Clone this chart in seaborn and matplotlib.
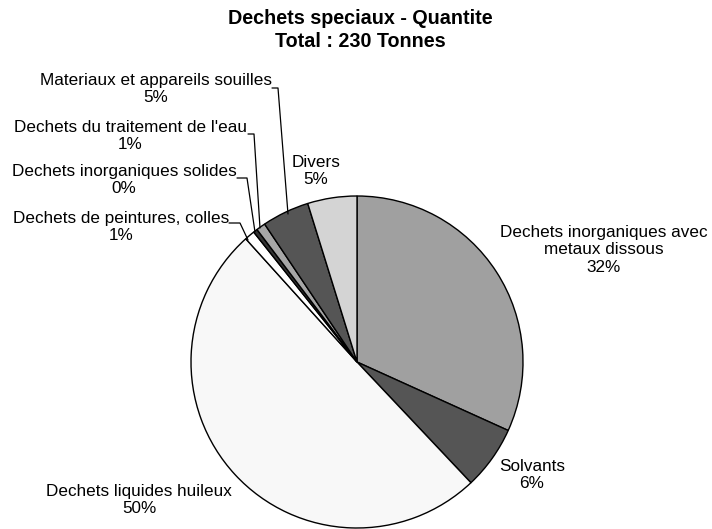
import matplotlib
matplotlib.use("Agg")
import matplotlib.pyplot as plt
import seaborn as sns

sns.set_theme(style="white")
plt.rcParams['font.family'] = ['Liberation Sans', 'DejaVu Sans']
plt.rcParams['text.color'] = 'black'

# Data (percent of 230 tonnes), clockwise from 12 o'clock
categories = ["Dechets inorganiques avec\nmetaux dissous", "Solvants",
              "Dechets liquides huileux", "Dechets de peintures, colles",
              "Dechets inorganiques solides", "Dechets du traitement de l'eau",
              "Materiaux et appareils souilles", "Divers"]
values = [31.8, 6.2, 50.4, 1.0, 0.4, 0.9, 4.6, 4.8]
colors = ["#A0A0A0", "#555555", "#F8F8F8", "#FFFFFF",
          "#333333", "#A6A6A6", "#555555", "#D4D4D4"]
title = "Dechets speciaux - Quantite\nTotal : 230 Tonnes"

W, H = 712, 529
fig = plt.figure(figsize=(W / 100, H / 100), dpi=100)
ax = fig.add_axes([0, 0, 1, 1])

cx, cy, r = 357, H - 362, 166
ax.pie(values, colors=colors, startangle=90, counterclock=False,
       center=(cx, cy), radius=r,
       wedgeprops=dict(edgecolor="black", linewidth=1.0), frame=True)
ax.set_xlim(0, W)
ax.set_ylim(0, H)
ax.axis("off")

total = sum(values)
labels = [f"{c}\n{round(v / total * 100):d}%" for c, v in zip(categories, values)]

fs = 12.3
# label positions (pixel coords, y from top)
pos = [(604, 250), (532, 475), (139, 500), (121, 227),
       (124, 180), (130, 136), (156, 89), (316, 171)]
for lab, (x, y) in zip(labels, pos):
    ax.text(x, H - y, lab, ha="center", va="center", fontsize=fs,
            linespacing=1.22, color="black")

# leader lines (pixel coords)
leaders = [
    [(229, 223), (240, 223), (248, 240)],
    [(237, 178), (247, 178), (255, 232)],
    [(248, 134), (254, 134), (260, 228)],
    [(272, 88), (278, 88), (288, 214)],
]
for pts in leaders:
    xs = [p[0] for p in pts]
    ys = [H - p[1] for p in pts]
    ax.plot(xs, ys, color="black", linewidth=0.9)

ax.text(360, H - 30, title, ha="center", va="center", fontsize=14.2,
        fontweight="bold", linespacing=1.22, color="black")

fig.savefig("out.png", dpi=100)
